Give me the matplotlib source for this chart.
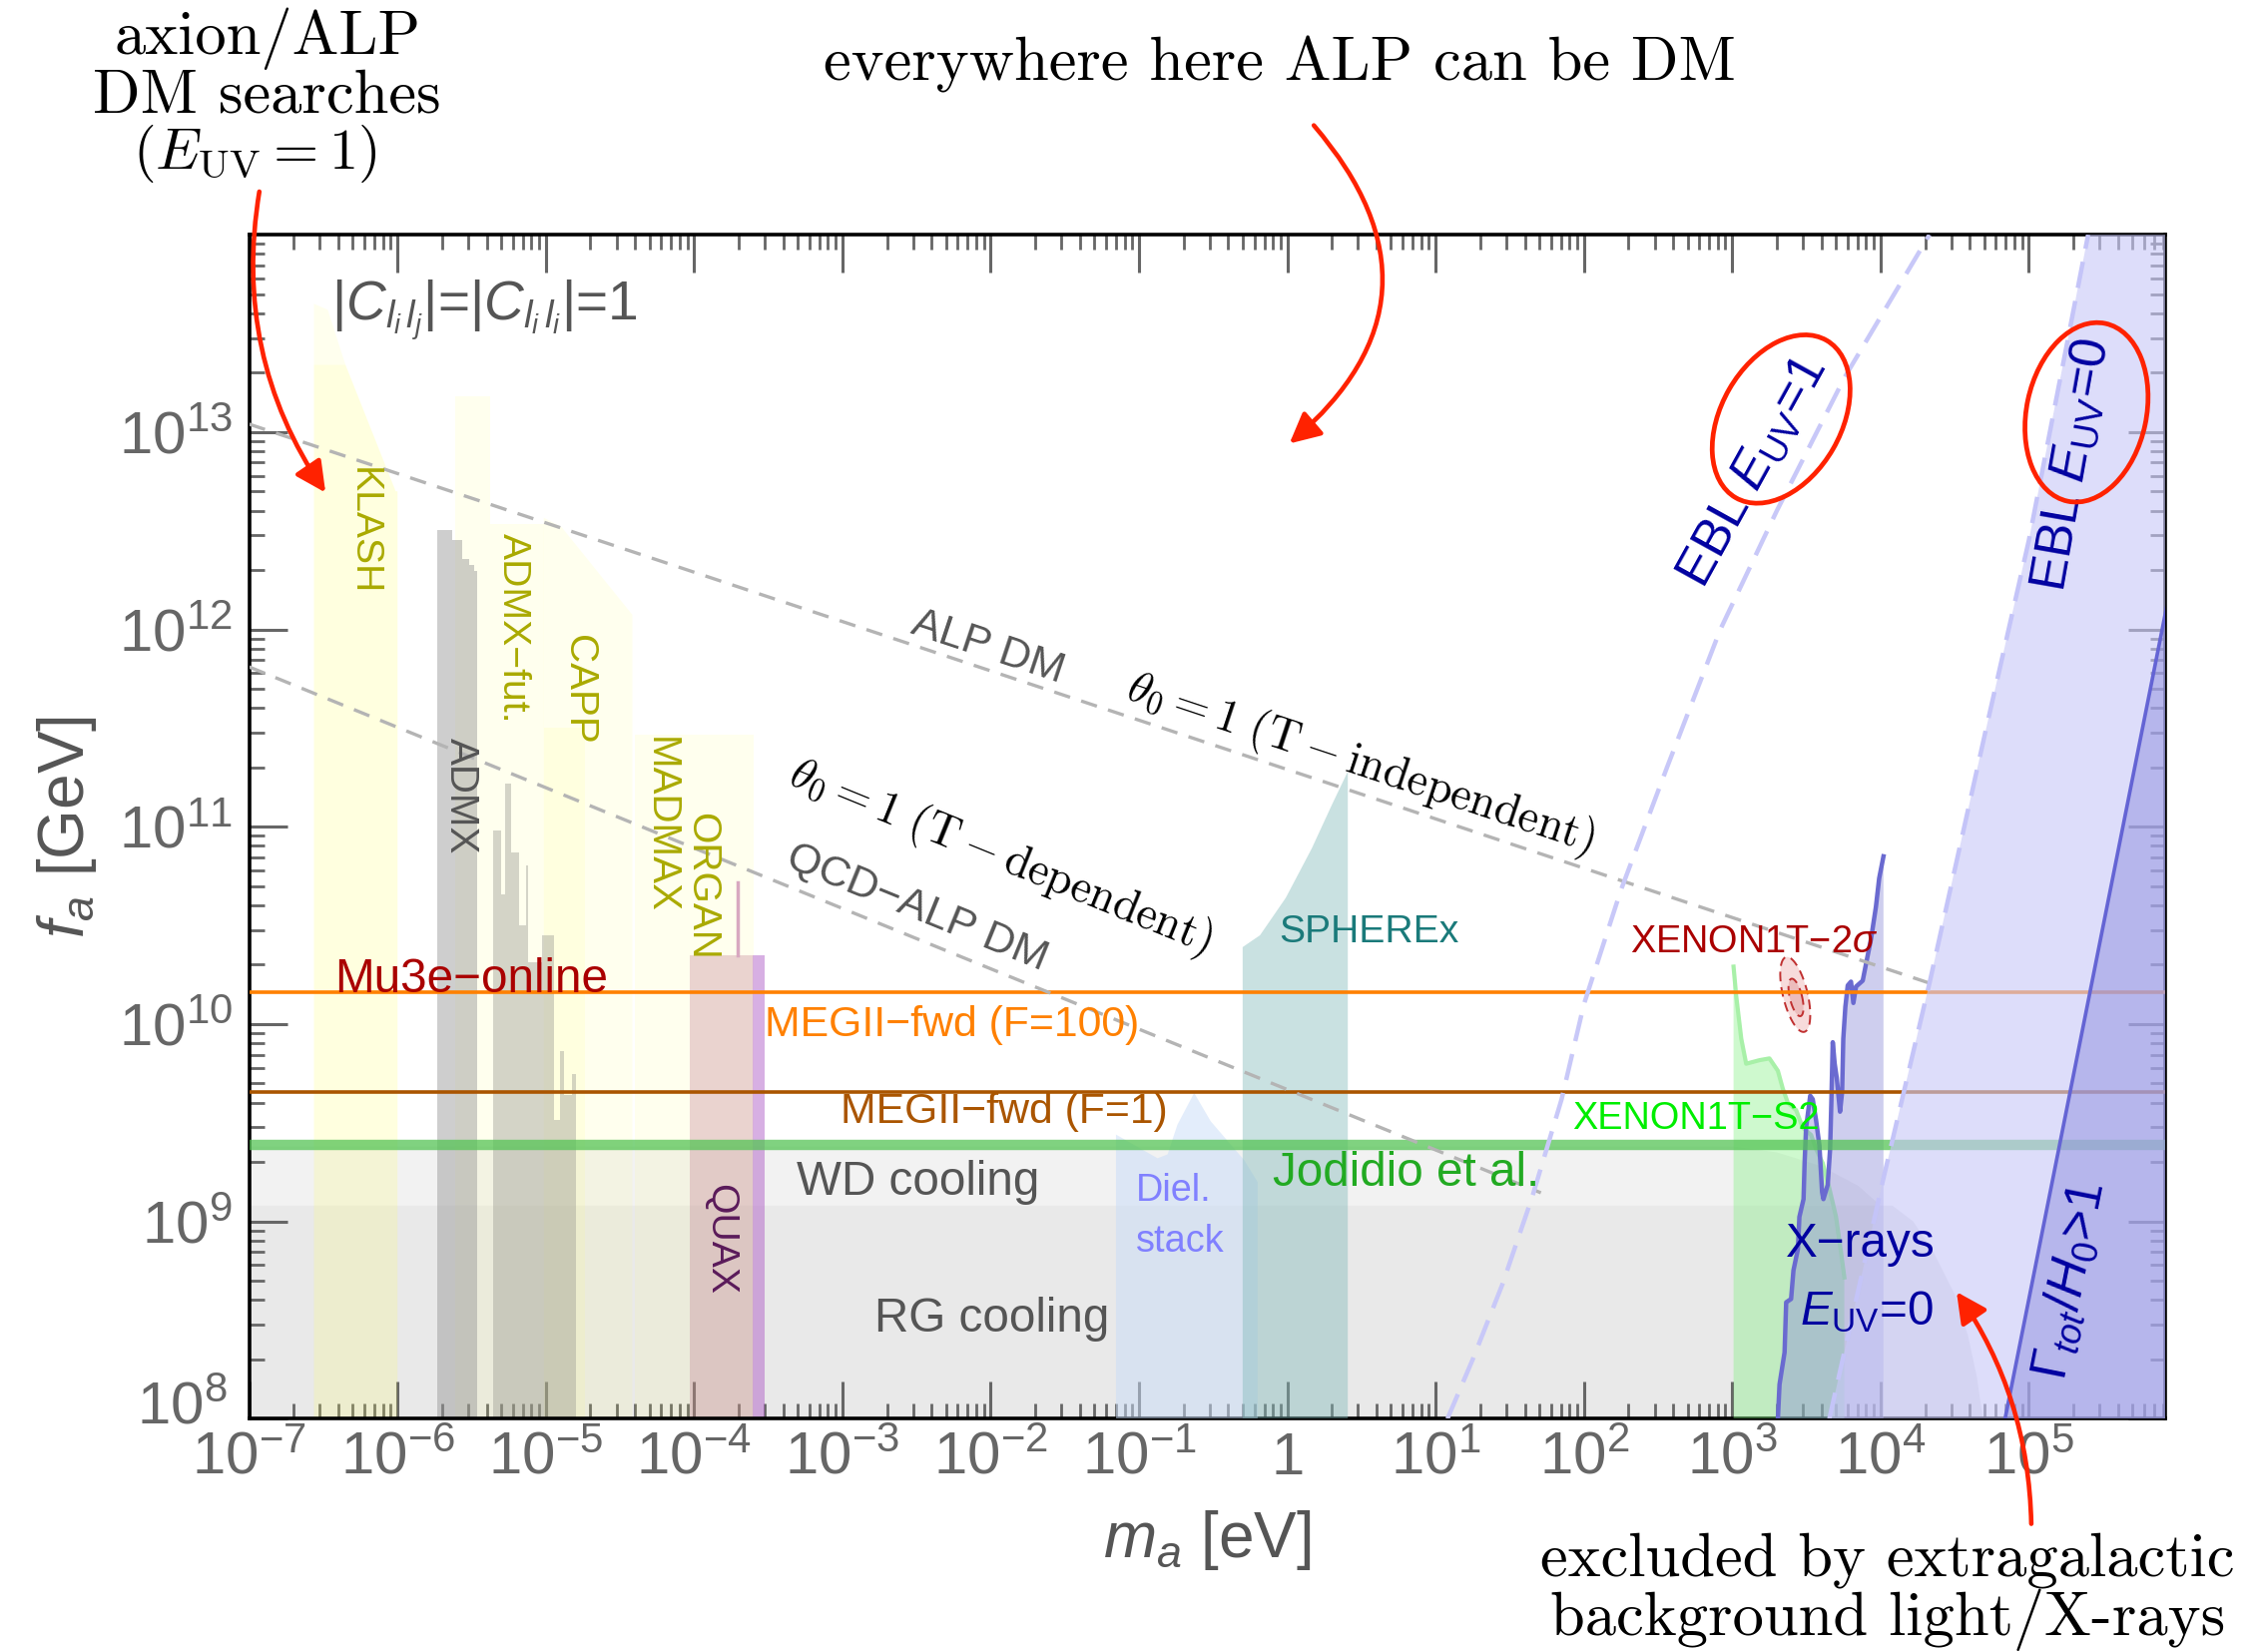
import numpy as np
import matplotlib.pyplot as plt
from matplotlib import font_manager
from matplotlib.patches import Ellipse, FancyArrowPatch
from matplotlib.ticker import LogLocator, NullFormatter
from matplotlib.transforms import IdentityTransform, ScaledTranslation

installed = {f.name for f in font_manager.fontManager.ttflist}
NARROW = 'Liberation Sans Narrow' in installed
SANS = 'Liberation Sans Narrow' if NARROW else 'Liberation Sans'
FS = 1.0 if NARROW else 0.88   # the regular face runs wider

plt.rcParams['font.family'] = [SANS, 'DejaVu Sans']
plt.rcParams['mathtext.fontset'] = 'custom'
plt.rcParams['mathtext.rm'] = SANS
plt.rcParams['mathtext.it'] = SANS + ':italic'
plt.rcParams['mathtext.bf'] = SANS + ':bold'

# ---- data (log10 of m_a [eV] and f_a [GeV]) ----
x_exps = list(range(-7, 6))
y_exps = list(range(8, 14))

f_megII_100 = 1.45e10      # MEGII-fwd (F=100), Mu3e-online
f_megII_1 = 4.5e9          # MEGII-fwd (F=1)
f_jodidio = 2.45e9         # Jodidio et al.

wd_logm = [-7, 3.0, 3.3, 3.6, 3.85, 4.0, 4.05]
wd_logf = [9.38, 9.38, 9.35, 9.28, 9.18, 9.08, 8.0]
rg_logm = [-7, 4.08, 4.22, 4.36, 4.50, 4.59, 4.65, 4.69]
rg_logf = [9.08, 9.08, 9.00, 8.84, 8.63, 8.42, 8.21, 8.0]

klash_logm = [-6.563, -6.47, -6.35, -6.012, -6.0]
klash_logf = [13.65, 13.62, 13.34, 12.70, 12.70]
klash_low_logm = [-6.563, -6.35, -6.012, -6.0]
klash_low_logf = [13.34, 13.34, 12.70, 12.70]
admxfut_logm = [-5.612, -5.372, -5.372, -5.013]
admxfut_logf = [13.18, 13.18, 12.534, 12.534]
capp_logm = [-5.013, -4.893, -4.416]
capp_logf = [12.566, 12.518, 12.074]
capp_low_logm = [-5.013, -4.738]
capp_low_logf = [11.5, 11.5]
madmax_logm = [-4.40, -3.60]
madmax_logf = [11.467, 11.467]

admx_edges = [-5.730, -5.629, -5.562, -5.517, -5.483, -5.461]
admx_tops = [12.504, 12.451, 12.357, 12.325, 12.294]
admx2_edges = [-5.356, -5.304, -5.275, -5.237, -5.181, -5.136, -5.118,
               -5.024, -4.946, -4.901, -4.879, -4.822, -4.796]
admx2_tops = [10.983, 10.658, 11.218, 10.868, 10.501, 10.806, 10.312,
              10.449, 9.515, 9.861, 9.641, 9.746]

quax_logm = [-4.032, -3.607]
quax_logf = [10.35, 10.35]
quax2_logm = [-3.607, -3.527]
quax2_logf = [10.35, 10.35]
quax_spike_logm = -3.703
quax_spike_logf = [10.35, 10.72]

diel_logm = [-1.155, -0.875, -0.807, -0.741, -0.628, -0.516, -0.382, -0.29, -0.2]
diel_logf = [9.44, 9.32, 9.34, 9.49, 9.651, 9.507, 9.39, 9.31, 9.2]
spherex_logm = [-0.301, -0.184, -0.01, 0.165, 0.30, 0.408]
spherex_logf = [10.39, 10.45, 10.64, 10.89, 11.11, 11.28]

s2_logm = [3.009, 3.027, 3.061, 3.094, 3.184, 3.251, 3.308, 3.341, 3.375, 3.431,
           3.476, 3.532, 3.566, 3.611, 3.655, 3.700, 3.734, 3.756]
s2_logf = [10.291, 10.142, 9.926, 9.799, 9.817, 9.826, 9.763, 9.673, 9.601, 9.564,
           9.474, 9.438, 9.366, 9.294, 9.167, 9.023, 8.842, 8.716]

xray_logm = [3.308, 3.319, 3.353, 3.364, 3.397, 3.413, 3.443, 3.453, 3.481, 3.488,
             3.498, 3.526, 3.543, 3.566, 3.588, 3.606, 3.615, 3.644, 3.660, 3.669,
             3.678, 3.691, 3.705, 3.727, 3.741, 3.749, 3.763, 3.779, 3.801, 3.817,
             3.835, 3.880, 3.907, 3.936, 3.969, 3.991, 4.02]
xray_logf = [8.0, 8.174, 8.336, 8.590, 8.607, 8.752, 8.860, 9.023, 9.113, 9.294,
             9.474, 9.637, 9.619, 9.510, 9.384, 9.149, 9.113, 9.185, 9.366, 9.619,
             9.908, 9.799, 9.727, 9.556, 9.655, 9.926, 10.088, 10.196, 10.215, 10.107,
             10.19, 10.22, 10.323, 10.431, 10.594, 10.739, 10.85]

xenon2s_center = (3.425, 10.15)
xenon2s_axes = (0.085, 0.19, 0.055)   # half-width, half-height, shear

ebl1_logm = [1.08, 1.25, 1.45, 1.65, 1.85, 2.0, 2.25, 2.56, 2.92, 3.3, 3.76, 4.33]
ebl1_logf = [8.0, 8.3, 8.68, 9.12, 9.62, 10.1, 10.68, 11.3, 12.0, 12.6, 13.28, 14.0]
ebl0_logm = [3.655, 4.014, 4.328, 4.713, 5.0, 5.40]
ebl0_logf = [8.0, 9.2, 10.2, 11.5, 12.45, 14.0]
gamma_logm = [4.84, 6.0]
gamma_logf = [8.0, 12.38]

alp_logm = [-7, 4.32]
alp_logf = [13.04, 10.21]
qcd_logm = [-7, 1.71]
qcd_logf = [11.81, 9.145]


def lin(v):
    return 10 ** np.asarray(v, dtype=float)


fig = plt.figure(figsize=(22.63, 16.55), dpi=100)
ax = fig.add_axes([0.1103, 0.1412, 0.8482, 0.7167])
ax.set_xscale('log')
ax.set_yscale('log')
ax.set_xlim(1e-7, 10 ** 5.92)
ax.set_ylim(1e8, 1e14)


def region(lm, lf, **kw):
    xs = lin(np.r_[lm[0], lm, lm[-1]])
    ys = lin(np.r_[8.0, lf, 8.0])
    ax.fill(xs, ys, lw=0, **kw)


# stellar cooling
region(wd_logm, wd_logf, color='#f2f2f2', zorder=1)
region(rg_logm, rg_logf, color='#e9e9e9', zorder=1.1)

# haloscope projections
yel = dict(color='#ffff60', alpha=0.1, zorder=2)
region(klash_logm, klash_logf, **yel)
region(klash_low_logm, klash_low_logf, **yel)
region(admxfut_logm, admxfut_logf, **yel)
region(capp_logm, capp_logf, **yel)
region(capp_low_logm, capp_low_logf, **yel)
region(madmax_logm, madmax_logf, **yel)

# ADMX
ax.stairs(lin(admx_tops), lin(admx_edges), baseline=1e8, fill=True,
          color='#999999', alpha=0.48, zorder=2.5)
ax.stairs(lin(admx2_tops), lin(admx2_edges), baseline=1e8, fill=True,
          color='#a0a098', alpha=0.45, zorder=2.5)

# QUAX
region(quax_logm, quax_logf, color='#c07c90', alpha=0.33, zorder=2.5)
region(quax2_logm, quax2_logf, color='#b060c8', alpha=0.5, zorder=2.5)
ax.plot(lin([quax_spike_logm] * 2), lin(quax_spike_logf), color='#d8a8c0', lw=2.5, zorder=2.5)

# dielectric stack and SPHEREx
region(diel_logm, diel_logf, color='#c8dcf8', alpha=0.5, zorder=2.6)
region(spherex_logm, spherex_logf, color='#7fb8b8', alpha=0.42, zorder=2.6)

# XENON1T S2
region(s2_logm, s2_logf, color='#80f080', alpha=0.38, zorder=2.6)
ax.plot(lin(s2_logm), lin(s2_logf), color='#a8f0a8', lw=3, zorder=2.7)

# X-rays
region(xray_logm, xray_logf, color='#8c8cd8', alpha=0.42, zorder=2.7)
ax.plot(lin(xray_logm), lin(xray_logf), color='#6a6ad0', lw=3.2, zorder=2.8)

# XENON1T 2 sigma region
t = np.linspace(0, 2 * np.pi, 200)
cx, cy = xenon2s_center
a, b, k = xenon2s_axes
for s, fc in [(1.0, '#f2c4c4'), (0.5, '#e6a8a8')]:
    ex = cx + 0.01 * (1 - s) + s * (a * np.cos(t) - k * np.sin(t))
    ey = cy - 0.03 * (1 - s) + s * b * np.sin(t)
    ax.fill(lin(ex), lin(ey), color=fc, alpha=0.6, lw=0, zorder=2.8)
    ax.plot(lin(ex), lin(ey), color='#c03030', lw=1.4, dashes=(5, 3), zorder=2.9)

# horizontal sensitivities
ax.axhline(f_jodidio, color='#55c455', alpha=0.75, lw=7.5, zorder=3)
ax.axhline(f_megII_1, color='#aa5500', lw=2.6, zorder=3)
ax.axhline(f_megII_100, color='#ff8000', lw=2.6, zorder=3)

# ALP dark matter lines
dash_gray = dict(color='#b4b4b4', lw=2.4, dashes=(5, 3.5), zorder=3.2)
ax.plot(lin(alp_logm), lin(alp_logf), **dash_gray)
ax.plot(lin(qcd_logm), lin(qcd_logf), **dash_gray)

# EBL / decay bounds
ax.fill(lin(ebl0_logm + [6.0, 6.0]), lin(ebl0_logf + [14.0, 8.0]),
        color='#c8c8f8', alpha=0.62, lw=0, zorder=4)
ax.plot(lin(ebl0_logm), lin(ebl0_logf), color='#c4c4f8', lw=3.2, dashes=(6, 3), zorder=4.1)
ax.plot(lin(ebl1_logm), lin(ebl1_logf), color='#c8c8f8', lw=3.2, dashes=(6, 3), zorder=4.1)
ax.fill(lin(gamma_logm + [6.0]), lin(gamma_logf + [8.0]),
        color='#8888dd', alpha=0.45, lw=0, zorder=4.2)
ax.plot(lin(gamma_logm), lin(gamma_logf), color='#6464d4', lw=2.6, zorder=4.3)


# ---- axes ----
ax.set_xticks([10.0 ** e for e in x_exps])
ax.set_xticklabels(['$1$' if e == 0 else '$10^{%d}$' % e for e in x_exps])
ax.set_yticks([10.0 ** e for e in y_exps])
ax.set_yticklabels(['$10^{%d}$' % e for e in y_exps])
for axis in (ax.xaxis, ax.yaxis):
    axis.set_minor_locator(LogLocator(base=10, subs=np.arange(2, 10), numticks=60))
    axis.set_minor_formatter(NullFormatter())
ax.tick_params(which='both', direction='in', top=True, right=True,
               color='#666666', labelcolor='#666666')
ax.tick_params(which='major', length=27, width=2.2, labelsize=49 * FS)
ax.tick_params(axis='x', which='major', pad=9)
ax.tick_params(axis='y', which='major', pad=12)
ax.tick_params(which='minor', length=11, width=2.0)
for sp in ax.spines.values():
    sp.set_linewidth(2.6)
    sp.set_color('black')
ax.set_xlabel(r'$m_a$ [eV]', fontsize=46, color='#555555', labelpad=16)
ax.set_ylabel(r'$f_a$ [GeV]', fontsize=46, color='#555555', labelpad=14)

# lift the lowest f_a label a little so it clears the first m_a label
low_label = ax.get_yticklabels()[0]
low_label.set_transform(low_label.get_transform()
                        + ScaledTranslation(-4 / 72, 12 / 72, fig.dpi_scale_trans))


def angle_of(lm, lf):
    p1 = ax.transData.transform((10 ** lm[0], 10 ** lf[0]))
    p2 = ax.transData.transform((10 ** lm[-1], 10 ** lf[-1]))
    return np.degrees(np.arctan2(p2[1] - p1[1], p2[0] - p1[0]))


def label(lm, lf, s, color, size, rot=0, ha='left', **kw):
    ax.text(10 ** lm, 10 ** lf, s, color=color, fontsize=size * FS, rotation=rot,
            ha=ha, va='center', rotation_mode='anchor', zorder=6, **kw)


gray = '#555555'
olive = '#aaaa00'
navy = '#0000a0'

label(-6.447, 13.62, r'$|C_{l_i\,l_j}|$=$|C_{l_i\,l_i}|$=1', gray, 45)
label(-6.233, 12.50, 'KLASH', olive, 32, rot=-90, ha='center')
label(-5.221, 12.007, 'ADMX\u2212fut.', olive, 32, rot=-90, ha='center')
label(-4.773, 11.696, 'CAPP', olive, 33, rot=-90, ha='center')
label(-4.223, 11.01, 'MADMAX', olive, 33, rot=-90, ha='center')
label(-3.95, 10.70, 'ORGAN', olive, 33, rot=-90, ha='center')
label(-5.573, 11.157, 'ADMX', gray, 33, rot=-90, ha='center')
label(-3.829, 8.908, 'QUAX', '#5a1a5a', 32, rot=-90, ha='center')

label(-6.427, 10.226, 'Mu3e\u2212online', '#aa0000', 39)
label(-3.524, 9.993, 'MEGII\u2212fwd (F=100)', '#ff8000', 35)
label(-3.010, 9.555, 'MEGII\u2212fwd (F=1)', '#aa5500', 35)
label(-3.311, 9.197, 'WD cooling', gray, 39)
label(-2.786, 8.504, 'RG cooling', gray, 39)
label(-1.019, 9.153, 'Diel.', '#8080ff', 31)
label(-1.019, 8.898, 'stack', '#8080ff', 31)
label(-0.058, 10.467, 'SPHEREx', '#1a7a7a', 32)
label(-0.097, 9.241, 'Jodidio et al.', '#22aa22', 39)
label(2.311, 10.416, r'XENON1T$-$2$\sigma$', '#aa0000', 31)
label(1.922, 9.518, 'XENON1T\u2212S2', '#00ee00', 31)
label(3.359, 8.883, 'X\u2212rays', navy, 39)
label(3.456, 8.54, r'$E_{\rm UV}$=0', navy, 39)
label(3.136, 12.80, r'EBL $E_{\rm UV}$=1', navy, 42, rot=angle_of(ebl1_logm[-3:], ebl1_logf[-3:]), ha='center')
label(5.29, 12.83, r'EBL $E_{\rm UV}$=0', navy, 42, rot=80, ha='center')
label(5.28, 8.70, r'$\Gamma_{tot}/H_0$>1', navy, 42, rot=angle_of(gamma_logm, gamma_logf), ha='center')

alp_rot = angle_of(alp_logm, alp_logf)
qcd_rot = angle_of(qcd_logm, qcd_logf)
label(-2.02, 11.91, 'ALP DM', gray, 35, rot=alp_rot, ha='center')
label(0.495, 11.32, r'$\theta_0 = 1\ (\mathrm{T} - \mathrm{independent})$', 'black', 33 / FS,
      rot=alp_rot, ha='center', math_fontfamily='cm')
label(-1.932, 10.847, r'$\theta_0 = 1\ (\mathrm{T} - \mathrm{dependent})$', 'black', 33 / FS,
      rot=qcd_rot, ha='center', math_fontfamily='cm')
label(-2.495, 10.59, 'QCD\u2212ALP DM', gray, 35, rot=qcd_rot, ha='center')

# red highlight ellipses around the E_UV labels
for lm, lf, ang in [(3.33, 13.066, 60), (5.389, 13.10, 78)]:
    c = ax.transData.transform((10 ** lm, 10 ** lf))
    fig.add_artist(Ellipse(c, 182, 120, angle=ang, transform=IdentityTransform(),
                           fill=False, edgecolor='#ff2200', lw=3.4, zorder=10))

# annotations outside the frame
serif = dict(family='cmr10', fontsize=45, color='black', ha='center', va='center')
fig.text(0.1186, 0.9765, 'axion/ALP', **serif)
fig.text(0.1183, 0.9416, 'DM searches', **serif)
fig.text(0.1126, 0.9067, r'$(E_{\rm UV} = 1)$', fontsize=42, ha='center', va='center',
         math_fontfamily='cm')
fig.text(0.5663, 0.9608, 'everywhere here ALP can be DM', **serif)
fig.text(0.8355, 0.0556, 'excluded by extragalactic', **serif)
fig.text(0.8355, 0.0195, 'background light/X-rays', **serif)

arrow_kw = dict(transform=fig.transFigure, arrowstyle='-|>', mutation_scale=46,
                color='#ff2200', lw=3.3, shrinkA=0, shrinkB=0, zorder=10)
fig.add_artist(FancyArrowPatch((0.1148, 0.8840), (0.1441, 0.7018),
                               connectionstyle='arc3,rad=0.2', **arrow_kw))
fig.add_artist(FancyArrowPatch((0.5816, 0.9241), (0.5708, 0.7315),
                               connectionstyle='arc3,rad=-0.5', **arrow_kw))
fig.add_artist(FancyArrowPatch((0.8992, 0.0776), (0.8661, 0.2180),
                               connectionstyle='arc3,rad=0.15', **arrow_kw))

fig.savefig('out.png', dpi=100)
